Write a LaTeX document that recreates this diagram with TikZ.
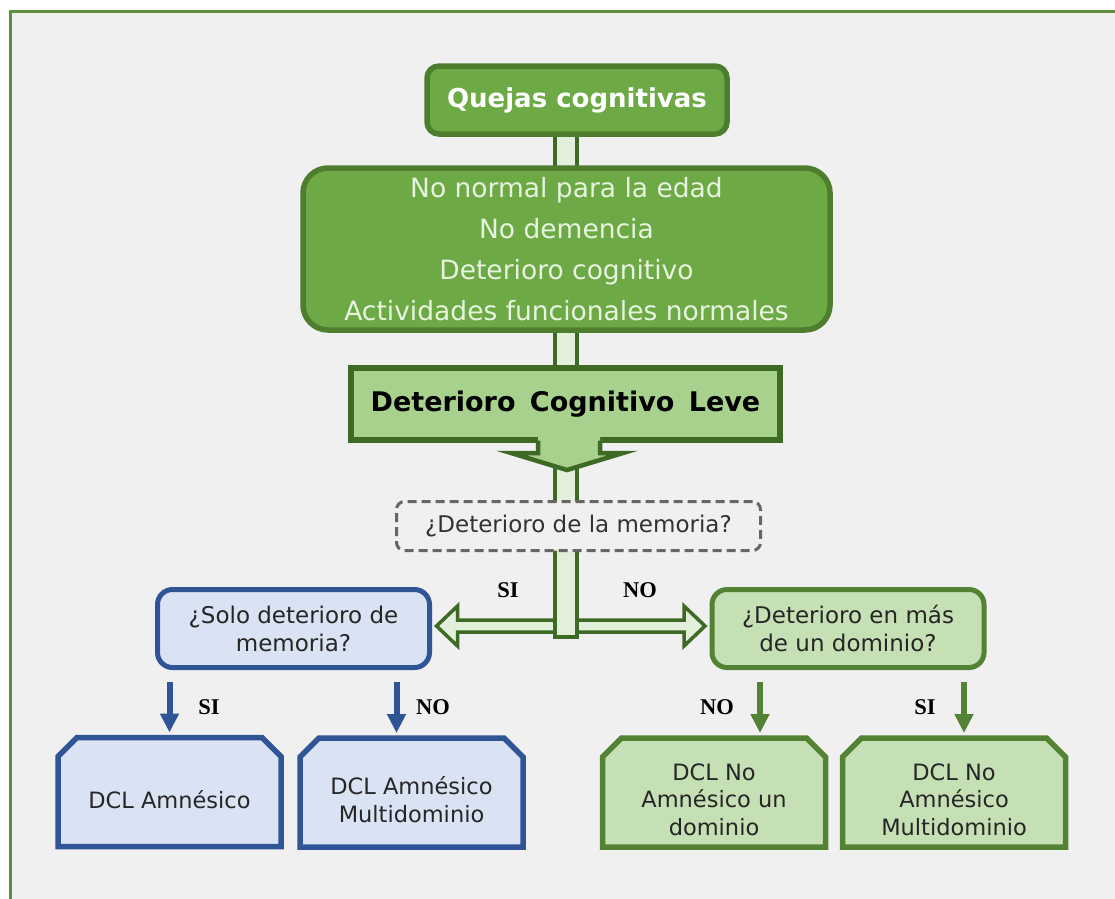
\documentclass[tikz,border=0pt]{standalone}
\usepackage{fontspec}
\setmainfont{DejaVu Sans}
\newfontfamily\lblfont{Liberation Serif}
\usetikzlibrary{calc,arrows.meta}
\pgfdeclarelayer{back}
\pgfdeclarelayer{bg}
\pgfsetlayers{back,bg,main}
\definecolor{bgc}{HTML}{F0F0F0}
\definecolor{frm}{HTML}{5E8F3A}
\definecolor{gmid}{HTML}{6DAA45}
\definecolor{gdark}{HTML}{4E7D2E}
\definecolor{gdeep}{HTML}{3D6A24}
\definecolor{glight}{HTML}{A9D18E}
\definecolor{gpale}{HTML}{C5E0B4}
\definecolor{gbar}{HTML}{E2EFDA}
\definecolor{gtxt}{HTML}{E8F4E0}
\definecolor{garr}{HTML}{548235}
\definecolor{bdark}{HTML}{2F5597}
\definecolor{bpale}{HTML}{DAE3F3}
\definecolor{txt}{HTML}{262626}
\definecolor{dashc}{HTML}{666666}
\definecolor{dtxt}{HTML}{333333}
\newcommand\chamfbox[2]{%
  \filldraw[#2, line width=5.5pt, line join=miter] (#1.south west) -- ($(#1.north west)+(0,19)$)
    -- ($(#1.north west)+(19,0)$) -- ($(#1.north east)+(-19,0)$)
    -- ($(#1.north east)+(0,19)$) -- (#1.south east) -- cycle;}
\tikzset{
  every node/.style={outer sep=0pt, inner sep=0pt},
  topbox/.style={rounded corners=12pt, fill=gmid, draw=gdark, line width=5.5pt,
    minimum width=300pt, minimum height=68pt, text=white,
    font=\fontsize{26}{31}\selectfont\bfseries},
  critbox/.style={rounded corners=25pt, fill=gmid, draw=gdark, line width=5.5pt,
    minimum width=527pt, minimum height=162pt, text=gtxt, align=center,
    font=\fontsize{26.5}{41}\selectfont},
  dclbox/.style={fill=glight, draw=gdeep, line width=5.5pt,
    minimum width=429pt, minimum height=72pt, text=black,
    font=\fontsize{27}{32}\selectfont\bfseries},
  askbox/.style={rounded corners=8pt, fill=bgc, draw=dashc, line width=3pt,
    dash pattern=on 9pt off 5pt, minimum width=364pt, minimum height=49pt,
    text=dtxt, font=\fontsize{23}{28}\selectfont},
  blueq/.style={rounded corners=15pt, fill=bpale, draw=bdark, line width=5pt,
    minimum width=272pt, minimum height=78pt, text=txt, align=center,
    font=\fontsize{23}{28}\selectfont},
  greenq/.style={blueq, fill=gpale, draw=garr},
  endbox/.style={rectangle, minimum width=223pt, minimum height=109pt},
  blueline/.style={fill=bpale, draw=bdark},
  greenline/.style={fill=gpale, draw=garr},
  endtxt/.style={text=txt, align=center, font=\fontsize{22.5}{27.5}\selectfont},
  barbox/.style={fill=gbar, draw=gdeep, line width=4pt},
  dblarrow/.style={fill=gbar, draw=gdeep, line width=3.5pt, line join=miter},
  lbl/.style={text=black, font=\fontsize{22.5}{26}\lblfont\bfseries},
  smallarr/.style={line width=6pt, -{Triangle[width=18pt,length=19pt]}},
}
\begin{document}
\begin{tikzpicture}[x=1pt,y=-1pt]
\useasboundingbox (0,0) rectangle (1115,898);
\clip (0,0) rectangle (1115,898);
\begin{pgfonlayer}{back}
\fill[white] (0,0) rectangle (1115,898);
\fill[bgc] (10,11) rectangle (1125,910);
\draw[frm, line width=3pt] (10,910) -- (10,11) -- (1125,11);
\end{pgfonlayer}

% nodes
\node[topbox] (q) at (577,100) {Quejas cognitivas};
\node[critbox] (c) at (566.5,249) {No normal para la edad\\No demencia\\Deterioro cognitivo\\Actividades funcionales normales};
\node[dclbox] (d) at (565.5,404) {Deterioro\hspace{5pt} Cognitivo\hspace{5pt} Leve};
\node[askbox] (m) at (578.5,526) {¿Deterioro de la memoria?};
\node[blueq] (l) at (293.5,628.5) {¿Solo deterioro de\\memoria?};
\node[greenq] (r) at (848,628.5) {¿Deterioro en más\\de un dominio?};
\node[endbox] (b1) at (169.5,792) {};
\node[endbox] (b2) at (411.5,792.5) {};
\node[endbox] (b3) at (714,792.5) {};
\node[endbox] (b4) at (954,792.5) {};
\chamfbox{b1}{blueline}
\chamfbox{b2}{blueline}
\chamfbox{b3}{greenline}
\chamfbox{b4}{greenline}
\node[endtxt] (t1) at ($(b1)+(0,8)$) {DCL Amnésico};
\node[endtxt] (t2) at ($(b2)+(0,7)$) {DCL Amnésico\\Multidominio};
\node[endtxt] (t3) at ($(b3)+(0,7)$) {DCL No\\Amnésico un\\dominio};
\node[endtxt] (t4) at ($(b4)+(0,7)$) {DCL No\\Amnésico\\Multidominio};

\coordinate (j) at (566,637);

% callout arrow below DCL box
\coordinate (t) at (568,440.5);
\fill[glight] ($(t)+(-30,-4)$) -- ($(t)+(-30,12.5)$) -- ($(t)+(-57,12.5)$) -- ($(t)+(-1,29.5)$)
  -- ($(t)+(55,12.5)$) -- ($(t)+(32,12.5)$) -- ($(t)+(32,-4)$) -- cycle;
\draw[draw=gdeep, line width=4.5pt, line join=miter] ($(t)+(-30,0)$) -- ($(t)+(-30,12.5)$) -- ($(t)+(-57,12.5)$) -- ($(t)+(-1,29.5)$)
  -- ($(t)+(55,12.5)$) -- ($(t)+(32,12.5)$) -- ($(t)+(32,0)$);

% connectors on background layer
\begin{pgfonlayer}{bg}
\coordinate (hl) at ($(l.east)+(7,-2.5)$);
\coordinate (hr) at ($(r.west)+(-7,-2.5)$);
\draw[dblarrow] (hl) -- ($(hl)+(21,-20)$) -- ($(hl)+(21,-6)$) -- ($(hr)+(-21,-6)$)
  -- ($(hr)+(-21,-20)$) -- (hr) -- ($(hr)+(-21,20)$) -- ($(hr)+(-21,6)$)
  -- ($(hl)+(21,6)$) -- ($(hl)+(21,20)$) -- cycle;
\draw[barbox] ($(j |- q.south)+(-11,-5)$) rectangle ($(j |- c.north)+(11,5)$);
\draw[barbox] ($(j |- c.south)+(-11,-5)$) rectangle ($(j |- d.north)+(11,5)$);
\draw[barbox] ($(j |- d.south)+(-11,-5)$) rectangle ($(j |- m.north)+(11,5)$);
\draw[barbox] ($(j |- m.south)+(-11,-5)$) rectangle ($(j)+(11,0)$);
\end{pgfonlayer}

% small arrows
\draw[smallarr, bdark] ($(b1.north |- l.south)+(0,14)$) -- ($(b1.north)+(0,-5)$);
\draw[smallarr, bdark] ($(b2.north |- l.south)+(-15,14)$) -- ($(b2.north)+(-15,-5)$);
\draw[smallarr, garr] ($(b3.north |- r.south)+(46,14)$) -- ($(b3.north)+(46,-5)$);
\draw[smallarr, garr] ($(b4.north |- r.south)+(10,14)$) -- ($(b4.north)+(10,-5)$);

% labels
\node[lbl] (s1) at (508,590) {SI};
\node[lbl] (n1) at (640,590) {NO};
\node[lbl] (s2) at (209,707) {SI};
\node[lbl] (n2) at (433,707) {NO};
\node[lbl] (n3) at (717,707) {NO};
\node[lbl] (s3) at (925,707) {SI};
\end{tikzpicture}
\end{document}
